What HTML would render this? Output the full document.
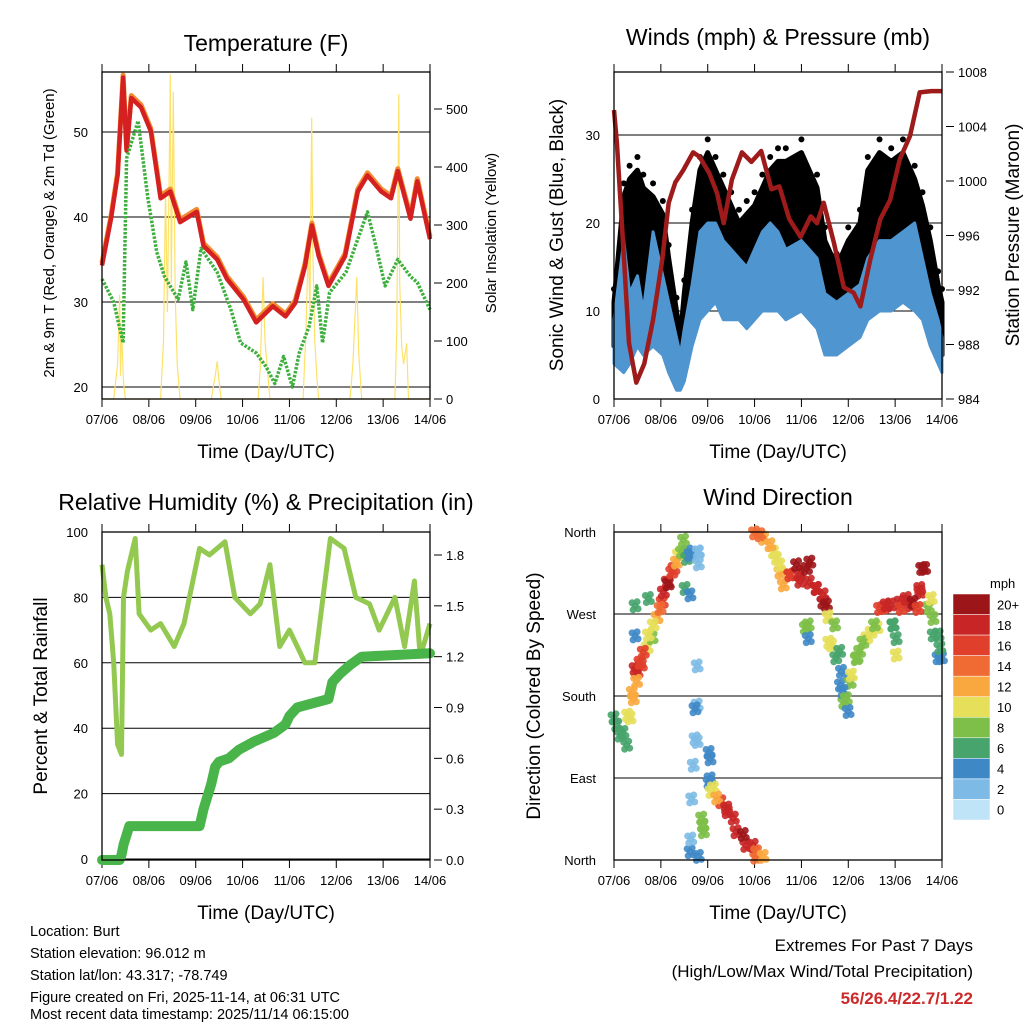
<!DOCTYPE html>
<html><head><meta charset="utf-8"><style>
html,body{margin:0;padding:0;background:#fff;}
svg{display:block;font-family:"Liberation Sans",sans-serif;}
</style></head><body>
<svg id="s" width="1024" height="1024" viewBox="0 0 1024 1024" xmlns="http://www.w3.org/2000/svg">
<g font-size="23" text-anchor="middle" fill="#000">
<text x="266" y="51">Temperature (F)</text>
<text x="778" y="45">Winds (mph) &amp; Pressure (mb)</text>
<text x="266" y="510">Relative Humidity (%) &amp; Precipitation (in)</text>
<text x="778" y="505">Wind Direction</text>
</g>
<g font-size="19" text-anchor="middle">
<text x="266" y="458">Time (Day/UTC)</text>
<text x="778" y="458">Time (Day/UTC)</text>
<text x="266" y="919">Time (Day/UTC)</text>
<text x="778" y="919">Time (Day/UTC)</text>
</g>
<g text-anchor="middle">
<text transform="translate(54,233) rotate(-90)" font-size="15">2m &amp; 9m T (Red, Orange) &amp; 2m Td (Green)</text>
<text transform="translate(496,233) rotate(-90)" font-size="15">Solar Insolation (Yellow)</text>
<text transform="translate(563,235) rotate(-90)" font-size="19">Sonic Wind &amp; Gust (Blue, Black)</text>
<text transform="translate(1019,235) rotate(-90)" font-size="19">Station Pressure (Maroon)</text>
<text transform="translate(47,696) rotate(-90)" font-size="19">Percent &amp; Total Rainfall</text>
<text transform="translate(540,696) rotate(-90)" font-size="19">Direction (Colored By Speed)</text>
</g>
<g font-size="14.5">
<text x="30" y="936">Location: Burt</text>
<text x="30" y="958">Station elevation: 96.012 m</text>
<text x="30" y="980">Station lat/lon: 43.317; -78.749</text>
<text x="30" y="1002">Figure created on Fri, 2025-11-14, at 06:31 UTC</text>
<text x="30" y="1019">Most recent data timestamp: 2025/11/14 06:15:00</text>
</g>
<g text-anchor="end" font-size="17">
<text x="973" y="951">Extremes For Past 7 Days</text>
<text x="973" y="977">(High/Low/Max Wind/Total Precipitation)</text>
<text x="973" y="1004" font-weight="bold" fill="#cc2a2a">56/26.4/22.7/1.22</text>
</g>
</svg>
<script>
const dayLabels=["07/06","08/06","09/06","10/06","11/06","12/06","13/06","14/06"];
const tempTicks=[20,30,40,50];
const solarTicks=[0,100,200,300,400,500];
const windTicks=[0,10,20,30];
const presTicks=[984,988,992,996,1000,1004,1008];
const rhTicks=[0,20,40,60,80,100];
const precTicks=[0.0,0.3,0.6,0.9,1.2,1.5,1.8];
const dirLabels=["North","East","South","West","North"];
const speedLabels=["0","2","4","6","8","10","12","14","16","18","20+"];
const speedColors=["#bfe4f8","#7dbbe6","#3f88c6","#47a46c","#7dbf48","#e5df5a","#f9a83f","#f06a33","#e0402b","#c82626","#9c1519"];

const tempHours=[0,4.6,8,10.8,12.6,15,20,25,30,35,40,48.5,52,59,64,72.5,79,87.5,94,99,104,107.5,111,116,124.5,131,136,143,148,151.5,158,161.5,168];
const tempVals=[34.3,39.8,44.9,56.4,47.8,54,52.9,50.1,42.2,43,39.4,40.6,36.6,35,32.7,30.3,27.6,29.5,28.3,29.9,34.2,39,35.4,31.9,35.4,43,44.9,43,42.2,45.4,39.8,44.2,37.4];
const dewHours=[0,6,10.8,12.6,18.5,23.5,28,32,39,43,46.5,50.7,59,66,71,79,84,88.5,93,97.5,101,106,110,113,116.5,125,131,136,141,145,151.5,158,161.5,168];
const dewVals=[32.7,30,25.2,46.9,51.3,42.2,35.9,33,30.3,34.7,29.1,36.3,33.5,29.1,25.2,24,22.4,20.4,23.6,20,24,27.1,31.9,25.2,31.1,33.5,37.4,40.6,35.9,31.9,35,33,32.3,29.1];
const solarHours=[0,6,8,9,9.5,10,11,12,30,31.5,32.5,33.5,34.5,35,35.5,36.5,37.5,38.5,40,56,58,59,60,61,80,81,82.5,83.5,84.5,86,103,104.5,105.7,106.5,107.4,108,109,110,111,127,128.5,130.5,131.5,133,150,151,152,152.5,153.5,154.5,156,157,168];
const solarVals=[0,0,60,180,40,120,30,0,0,100,360,150,420,560,200,530,180,60,0,0,40,65,30,0,0,50,210,100,60,0,0,120,270,150,485,250,100,40,0,0,60,210,80,0,0,120,526,200,90,60,96,0,0];

const presHours=[0,1.5,4.6,7.7,11.4,15.5,20,24.7,28,31.4,35.5,40.5,43.7,48.7,52.8,56.2,60.4,65.5,70.4,75.4,80.6,84.7,89.8,95.6,100.8,104,107.4,112.6,117.7,122.7,126.2,131.2,136.4,141.4,146.4,151.6,156.6,162.5,168];
const presVals=[1005.2,1002.8,995.5,988.1,985.2,986.6,989.8,994.2,998.4,999.9,1000.8,1002.1,1001.8,1000.6,999.1,996.9,1000.1,1002.1,1001.4,1002.2,999.4,999.6,997.2,995.9,997.4,996.9,998.4,995.5,992.2,991.8,990.8,994.2,997.2,998.6,1001.6,1003.3,1006.5,1006.6,1006.6];
const windHours=[0,5,8,12,15,20,25,28,32,34,36,40,44,48,52,56,60,64,68,72,76,80,84,88,96,104,108,114,120,126,130,136,142,148,154,158,162,166,168];
const sonicLo=[4,3,4,6,5,6,5,3,1,1,2,6,9,10,11,9,9,9,8,9,10,10,10,9,10,8,5,5,6,7,9,10,10,11,10,9,6,4,3];
const sonicHi=[9,18,12,14,10,19,14,11,7,5,8,13,19,20,20,18,17,16,15,17,19,20,19,17,18,16,12,11,12,13,16,18,18,19,20,16,12,9,7];
const gustLo=[6,8,10,12,10,12,10,6,2,2,4,8,12,14,15,14,12,12,12,12,14,16,16,15,16,12,8,8,10,10,14,15,15,14,14,12,8,6,5];
const gustHi=[11,23,25,26,24,23,21,16,10,7,12,20,26,28,26,24,22,20,21,22,24,26,27,27,28,24,18,15,18,20,26,28,27,28,25,22,18,13,11];

const rhHours=[0,2,4,6,8,10,11,13,17,19,25,30,37,42,50,55,63,68,76,81,86,91,96,104,109,117,124,130,137,142,150,155,160,163,168];
const rhVals=[90,80,75,60,35,32,80,88,98,75,70,72,65,72,95,93,97,80,75,78,90,65,70,60,60,98,95,80,78,70,80,65,85,62,72];
const precHours=[0,9,10,11,14,50,52,56,58,60,65,70,78,88,94,96,100,116,118,122,127,133,168];
const precVals=[0,0,0.03,0.09,0.2,0.2,0.3,0.45,0.55,0.58,0.6,0.65,0.7,0.75,0.8,0.85,0.9,0.95,1.05,1.1,1.15,1.2,1.22];

const dirHours=[0,4.6,7,9.4,11.8,14,17,19.5,22,24.7,27.3,30.7,33,35.6,38,39,42.6,42.6,42.6,43,45.6,48.7,48.7,49.7,54.7,58,62.5,67.5,72.6,72,76.6,81.7,85,90,95,98,100,103.5,107,110,113.6,116,117.7,121,124.5,129.5,134.7,138,143,146.5,151.6,156.7,157.6,161,163.5,166,
1.4,3.1,6.5,8.2,9.9,10.8,11.6,13.3,15,10.8,10.8,17.6,20.1,17.6,23.6,25.3,27.8,29.6,32,34.6,37.2,38.9,36.4,38.9,43.2,43.2,41.5,41.5,40.6,39.8,39.3,43.2,45.8,44.9,49.2,49.2,50.9,52.6,57.7,61.1,66.2,71.3,73,76.4,74.7,79.9,83.2,84.9,86.7,90.1,93.5,95.2,98.6,100.3,103.7,107.1,108.8,99.5,99.5,109.6,111.4,113,115.6,116.5,117.3,119,119.9,121.6,124.1,125.8,127.5,131.7,133.4,136,139.4,142,142.8,144.5,144.5,147.1,149.7,153.2,155.7,156.6,159.1,162.5,163.4,166,167.7,166.9];
const dirVals=[156,140,159,184,206,214,233,244,266,283,305,320,335,351,338,9,213,170,130,338,38,118,85,75,64,53,31,16,3,359,353,338,316,313,313,255,305,298,283,239,222,192,173,195,222,244,255,277,258,283,280,294,320,277,247,222,
148,137,126,156,177,210,196,217,228,246,279,247,258,287,276,294,303,316,327,338,331,335,298,291,338,325,166,133,104,67,23,4,31,46,111,89,79,68,57,46,28,16,9,4,357,346,331,324,302,313,324,306,320,327,298,291,280,258,243,267,236,258,229,207,185,177,163,203,221,229,239,250,258,276,280,280,258,243,225,276,287,283,276,298,320,287,265,247,222,233];
const dirSpeeds=[5,6,9,12,15,16,10,8,11,16,18,15,10,7,4,3,2,1,1,2,8,3,4,10,16,17,18,17,14,14,12,10,12,17,18,7,17,18,19,9,5,4,7,8,8,10,9,16,6,17,18,17,19,8,5,4,
6,6,5,10,12,18,11,15,16,4,5,9,9,6,14,17,19,15,11,8,6,4,6,4,2,2,3,2,2,2,1,3,8,7,4,4,10,12,17,18,19,18,14,12,13,12,10,9,12,15,19,17,19,20,18,18,19,7,4,10,9,8,5,4,4,7,4,10,7,8,8,10,8,15,18,17,6,6,10,15,17,20,16,18,20,10,8,5,4,5];

const svg=document.getElementById('s');
const NS="http://www.w3.org/2000/svg";
function mk(tag,attrs,parent){const e=document.createElementNS(NS,tag);for(const k in attrs)e.setAttribute(k,attrs[k]);(parent||svg).appendChild(e);return e;}
function lin(d0,d1,r0,r1){return v=>r0+(v-d0)/(d1-d0)*(r1-r0);}
function path(xs,ys,fx,fy){return xs.map((h,i)=>(i?'L':'M')+fx(h).toFixed(1)+','+fy(ys[i]).toFixed(1)).join('');}

function frame(name,L,T,R,B){
  const g=mk('g',{});
  
  
  const fx=lin(0,168,L,R);
  dayLabels.forEach((lab,i)=>{
    const x=fx(i*24);
    mk('line',{x1:x,y1:T,x2:x,y2:T-8,stroke:'#000','stroke-width':1},g);
    mk('line',{x1:x,y1:B,x2:x,y2:B+8,stroke:'#000','stroke-width':1},g);
    const t=mk('text',{x:x,y:B+25,'font-size':13,'text-anchor':'middle'},g);t.textContent=lab;
    
    
  });
  return {g,fx};
}
function box(L,T,R,B){const r=mk('rect',{x:L,y:T,width:R-L,height:B-T,fill:'none',stroke:'#000','stroke-width':1.3});

}
function grid(g,fy,ticks,L,R){ticks.forEach(v=>{mk('line',{x1:L,x2:R,y1:fy(v),y2:fy(v),stroke:'#000','stroke-width':1},g);});}
function yLabels(g,fy,ticks,x,anchor,fmt,tickmarks){ticks.forEach(v=>{const t=mk('text',{x:x,y:fy(v)+5,'font-size':13,'text-anchor':anchor},g);t.textContent=fmt?fmt(v):v;


if(tickmarks)mk('line',{x1:x-12,x2:x-4,y1:fy(v),y2:fy(v),stroke:'#000'},g);});}

// Panel 1 temperature
(function(){
  const L=102,T=72,R=430,B=399;
  const {g,fx}=frame('temperature',L,T,R,B);
  const fy=lin(20,30,387,302);
  const fs=lin(0,100,399,341);
  grid(g,fy,tempTicks,L,R);
  yLabels(g,fy,tempTicks,88,'end');
  yLabels(g,fs,solarTicks,446,'start',null,true);
  const sp=mk('path',{d:path(solarHours,solarVals,fx,fs),fill:'none',stroke:'#fde26a','stroke-width':1.2});
  
  
  const op=mk('path',{d:path(tempHours,tempVals.map(v=>v+0.3),fx,fy),fill:'none',stroke:'#f28c30','stroke-width':5,'stroke-linejoin':'round'});
  
  
  const rp=mk('path',{d:path(tempHours,tempVals,fx,fy),fill:'none',stroke:'#d42020','stroke-width':4.5,'stroke-linejoin':'round'});
  
  
  const dp=mk('path',{d:path(dewHours,dewVals,fx,fy),fill:'none',stroke:'#3daf3d','stroke-width':3.5,'stroke-dasharray':'2.5 1.5','stroke-linejoin':'round'});
  
  
  box(L,T,R,B);
})();

// Panel 2 winds
(function(){
  const L=614,T=72,R=942,B=399;
  const {g,fx}=frame('winds',L,T,R,B);
  const fy=lin(0,10,399,311);
  const fp=lin(984,988,399,344.5);
  grid(g,fy,windTicks,L,R);
  yLabels(g,fy,windTicks,600,'end');
  yLabels(g,fp,presTicks,958,'start',null,true);
  const gp=windHours.map((h,i)=>[fx(h),fy(gustHi[i])]).concat(windHours.map((h,i)=>[fx(h),fy(gustLo[i])]).reverse());
  const gb=mk('polygon',{points:gp.map(p=>p.join(',')).join(' '),fill:'#000',stroke:'#000','stroke-width':5,'stroke-linejoin':'round'});
  
  
  windHours.forEach((h,i)=>{
    const c=mk('circle',{cx:fx(h),cy:fy(gustHi[i]+1.5),r:3,fill:'#000'});
    
    
  });
  const bp=windHours.map((h,i)=>[fx(h),fy(sonicHi[i])]).concat(windHours.map((h,i)=>[fx(h),fy(sonicLo[i])]).reverse());
  const bb=mk('polygon',{points:bp.map(p=>p.join(',')).join(' '),fill:'#4f95d0',stroke:'#4f95d0','stroke-width':3,'stroke-linejoin':'round'});
  
  
  const pp=mk('path',{d:path(presHours,presVals,fx,fp),fill:'none',stroke:'#9e1b1b','stroke-width':4.5,'stroke-linejoin':'round'});
  
  
  box(L,T,R,B);
})();

// Panel 3 RH & precip
(function(){
  const L=102,T=532,R=430,B=860;
  const {g,fx}=frame('humidity',L,T,R,B);
  const fy=lin(0,100,859,532);
  const fr=lin(0,1.8,860,555);
  grid(g,fy,rhTicks,L,R);
  yLabels(g,fy,rhTicks,88,'end');
  yLabels(g,fr,precTicks,446,'start',v=>v.toFixed(1),true);
  const rp=mk('path',{d:path(rhHours,rhVals,fx,fy),fill:'none',stroke:'#93c950','stroke-width':5,'stroke-linejoin':'round'});
  
  
  const pp=mk('path',{d:path(precHours,precVals,fx,fr),fill:'none',stroke:'#49b449','stroke-width':10,'stroke-linejoin':'round','stroke-linecap':'round'});
  
  
  box(L,T,R,B);
})();

// Panel 4 wind direction
(function(){
  const L=614,T=532,R=942,B=860;
  const {g,fx}=frame('direction',L,T,R,B);
  const fy=lin(0,360,860,532);
  [90,180,270].forEach(v=>mk('line',{x1:L,x2:R,y1:fy(v),y2:fy(v),stroke:'#000'},g));
  dirLabels.forEach((lab,i)=>{const t=mk('text',{x:596,y:fy(i*90)+5,'font-size':13,'text-anchor':'end'},g);t.textContent=lab;
    
    });
  const offs=[[0,0],[2,-4],[-2,4],[3,3],[-3,-3]];
  dirHours.forEach((h,i)=>{
    const ci=Math.min(10,Math.round(dirSpeeds[i]/2));
    offs.forEach(o=>{
      const c=mk('circle',{cx:fx(h)+o[0],cy:fy(dirVals[i])+o[1],r:3.5,fill:speedColors[ci],'fill-opacity':0.9});
      
      
    });
  });
  box(L,T,R,B);
  const lg=mk('g',{});
  
  
  const t0=mk('text',{x:990,y:588,'font-size':13},lg);t0.textContent='mph';
  
  
  const n=speedColors.length,top=594,bot=820,h=(bot-top)/n;
  speedColors.slice().reverse().forEach((c,i)=>{
    const r=mk('rect',{x:953,y:top+i*h,width:37,height:h,fill:c,stroke:'#fff','stroke-width':0.5},lg);
    
    
    const t=mk('text',{x:997,y:top+i*h+h/2+5,'font-size':13},lg);t.textContent=speedLabels[n-1-i];
    
    
  });
})();
</script>
</body></html>
